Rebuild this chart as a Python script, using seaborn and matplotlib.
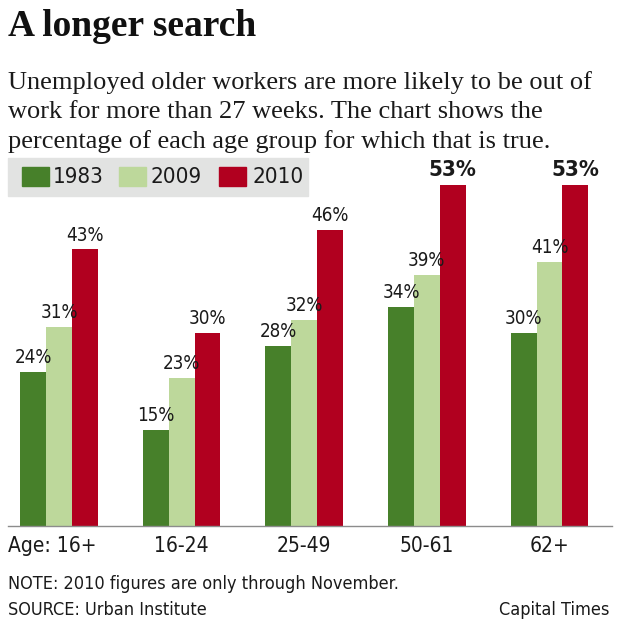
import matplotlib
matplotlib.use("Agg")
import matplotlib.pyplot as plt
from matplotlib.patches import Rectangle
import seaborn as sns
import pandas as pd

# data
ages = ["16+", "16-24", "25-49", "50-61", "62+"]
years = ["1983", "2009", "2010"]
pct_1983 = [24, 15, 28, 34, 30]
pct_2009 = [31, 23, 32, 39, 41]
pct_2010 = [43, 30, 46, 53, 53]

colors = {"1983": "#47802a", "2009": "#bdd89b", "2010": "#b1001f"}

SANS = ["DejaVu Sans"]
SERIF = ["Liberation Serif", "DejaVu Serif"]

W, H = 620, 634


def fx(x):
    return x / W


def fy(y):
    return 1 - y / H


df = pd.DataFrame({
    "age": ages * 3,
    "year": [y for y in years for _ in ages],
    "pct": pct_1983 + pct_2009 + pct_2010,
})

sns.set_style("white")
plt.rcParams["font.family"] = SANS
plt.rcParams["font.stretch"] = "condensed"

fig = plt.figure(figsize=(W / 100, H / 100), dpi=100)
# axes: left 8px, right 612px, baseline at 526px, top at 140px
ax = fig.add_axes([fx(8), fy(526), fx(604), (526 - 140) / H])

sns.barplot(data=df, x="age", y="pct", hue="year", order=ages, hue_order=years,
            palette=colors, width=0.634, saturation=1, linewidth=0,
            legend=False, ax=ax)

ax.set_xlim(-0.416, 4.51)
ax.set_ylim(0, 60)
ax.set_xlabel("")
ax.set_ylabel("")
ax.set_yticks([])
for s in ["top", "left", "right"]:
    ax.spines[s].set_visible(False)
ax.spines["bottom"].set_color("#8c8c8c")
ax.spines["bottom"].set_linewidth(1.0)

# value labels
for cont in ax.containers:
    labels = ax.bar_label(cont, fmt="{:.0f}%", padding=3.5, fontsize=13.5,
                          color="#1a1a1a")
    for t in labels:
        if t.get_text() == "53%":
            t.set_fontweight("bold")
            t.set_fontsize(16)

# category labels and separator ticks
ax.set_xticks(range(len(ages)))
ax.set_xticklabels([])
ax.tick_params(axis="x", which="major", length=0)
ax.set_xticks([i + 0.5 for i in range(len(ages) - 1)], minor=True)
ax.tick_params(axis="x", which="minor", length=5, color="#c4c4c4", width=1)
for i, a in enumerate(ages):
    if i == 0:
        ax.text(0, -0.052, "Age: " + a, transform=ax.transAxes, ha="left",
                va="center", fontsize=15, color="#1a1a1a")
    else:
        ax.text(i, -0.052, a, transform=ax.get_xaxis_transform(), ha="center",
                va="center", fontsize=15, color="#1a1a1a")

# title and subtitle
fig.text(fx(8), fy(26), "A longer search", fontsize=27, fontweight="bold",
         family=SERIF, fontstretch="normal", va="center", ha="left",
         color="#111111")
subtitle = ["Unemployed older workers are more likely to be out of",
            "work for more than 27 weeks. The chart shows the",
            "percentage of each age group for which that is true."]
for k, line in enumerate(subtitle):
    fig.text(fx(8), fy(83 + k * 29.5), line, fontsize=19, family=SERIF,
             fontstretch="normal", va="center", ha="left", color="#1a1a1a")

# legend box
fig.patches.append(Rectangle((fx(8), fy(196)), fx(300), 38 / H,
                             transform=fig.transFigure, color="#e2e3e2",
                             zorder=0))
for yr, x0, xt in zip(years, [22, 119, 219], [53, 150, 253]):
    fig.patches.append(Rectangle((fx(x0), fy(186)), fx(27), 19 / H,
                                 transform=fig.transFigure, color=colors[yr],
                                 zorder=1))
    fig.text(fx(xt), fy(177), yr, fontsize=16, va="center", ha="left",
             color="#1a1a1a")

# footer
fig.text(fx(8), fy(584), "NOTE: 2010 figures are only through November.",
         fontsize=13, va="center", ha="left", color="#1a1a1a")
fig.text(fx(8), fy(610), "SOURCE: Urban Institute", fontsize=13,
         va="center", ha="left", color="#1a1a1a")
fig.text(fx(609), fy(610), "Capital Times", fontsize=13, va="center",
         ha="right", color="#1a1a1a")

fig.savefig("out.png", dpi=100)
